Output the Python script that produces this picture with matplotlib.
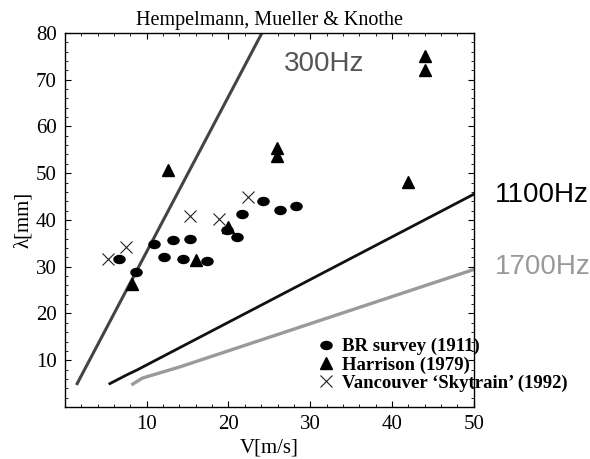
import matplotlib
matplotlib.use("Agg")
import matplotlib.pyplot as plt
from matplotlib.path import Path
from matplotlib.ticker import MultipleLocator

# data
br_v = [6.6, 8.7, 10.9, 12.1, 13.2, 14.4, 15.3, 17.4, 19.8, 21.0, 21.7, 24.2, 26.3, 28.3]
br_lam = [31.7, 28.9, 34.9, 32.1, 35.8, 31.7, 36.0, 31.3, 37.9, 36.4, 41.3, 44.1, 42.2, 42.9]

har_v = [8.2, 12.6, 16.0, 19.9, 25.9, 25.9, 41.9, 44.0, 44.0]
har_lam = [26.3, 50.7, 31.5, 38.5, 55.4, 53.6, 48.1, 75.0, 72.0]

van_v = [5.3, 7.5, 15.3, 18.8, 22.4]
van_lam = [31.7, 34.3, 40.9, 40.2, 45.0]

# frequency lines
l300_v = [1.5, 24.1]
l300_lam = [5.0, 80.0]
l1100_v = [5.5, 7.6, 8.8, 50.0]
l1100_lam = [5.0, 6.9, 7.9, 45.5]
l1700_v = [8.3, 9.5, 14.1, 50.0]
l1700_lam = [4.9, 6.2, 8.6, 29.4]

serif = "Liberation Serif"
sans = "Liberation Sans"

fig = plt.figure(figsize=(5.9, 4.59), dpi=100)
ax = fig.add_axes([0.110, 0.1133, 0.693, 0.815])

ax.plot(l300_v, l300_lam, color="#444444", lw=2.2)
ax.plot(l1100_v, l1100_lam, color="#111111", lw=2.0)
ax.plot(l1700_v, l1700_lam, color="#9a9a9a", lw=2.4)

circ = Path.unit_circle()
ellipse = Path(circ.vertices * [1.0, 0.72], circ.codes)

ax.plot(br_v, br_lam, ls="none", marker=ellipse, ms=8, color="black",
        label="BR survey (1911)")
ax.plot(har_v, har_lam, ls="none", marker="^", ms=8, color="black",
        label="Harrison (1979)")
ax.plot(van_v, van_lam, ls="none", marker="x", ms=8, mew=0.8, color="#222222",
        label="Vancouver \u2018Skytrain\u2019 (1992)")

ax.set_xlim(0, 50)
ax.set_ylim(0, 80)
ax.set_xticks([10, 20, 30, 40, 50])
ax.set_yticks([10, 20, 30, 40, 50, 60, 70, 80])
ax.xaxis.set_minor_locator(MultipleLocator(2))
ax.yaxis.set_minor_locator(MultipleLocator(2))
ax.tick_params(which="both", direction="in", top=True, right=True,
               labeltop=False, labelright=False)
ax.tick_params(which="major", length=4.5, width=0.8, labelsize=15, pad=6)
ax.tick_params(which="minor", length=2.2, width=0.6)
for lab in ax.get_xticklabels() + ax.get_yticklabels():
    lab.set_fontfamily(serif)
for s in ax.spines.values():
    s.set_linewidth(1.0)

ax.set_title("Hempelmann, Mueller & Knothe", family=serif, fontsize=14.5, pad=6)
ax.set_xlabel("V[m/s]", family=serif, fontsize=15, labelpad=3)
ax.set_ylabel("\u03bb[mm]", family=serif, fontsize=15, labelpad=2)

ax.text(0.536, 0.918, "300Hz", transform=ax.transAxes, family=sans,
        fontsize=20, color="#555555", va="center")
fig.text(0.838, 0.575, "1100Hz", family=sans, fontsize=20, color="black",
         va="center")
fig.text(0.838, 0.418, "1700Hz", family=sans, fontsize=20, color="#999999",
         va="center")

leg = ax.legend(loc="upper left", bbox_to_anchor=(0.525, 0.284),
                bbox_transform=fig.transFigure, frameon=False,
                prop={"family": serif, "weight": "bold", "size": 13.5},
                handlelength=0.7, handletextpad=0.5, labelspacing=0.05,
                borderpad=0.0)

fig.savefig("out.png", dpi=100)
